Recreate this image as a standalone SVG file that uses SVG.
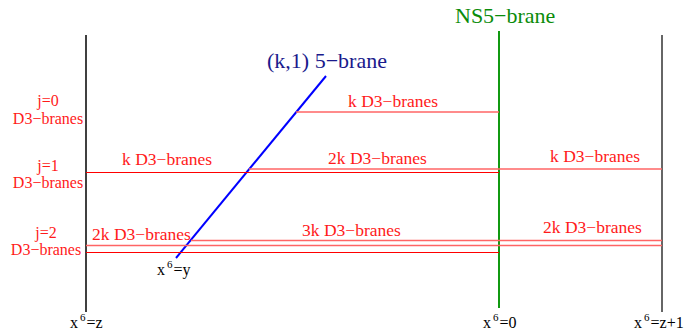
<svg xmlns="http://www.w3.org/2000/svg" width="686" height="332" viewBox="0 0 686 332">
<style>
text{font-family:"Liberation Serif","Times New Roman",serif}
.lbl{font-size:17.5px;fill:#ff1a1a}
.side{font-size:16px;fill:#ff1a1a;text-anchor:middle}
.pos{font-size:16px;fill:#000}
.sup{font-size:11px}
.d3l{stroke:#ff6464;stroke-width:1.7;fill:none}
.d3d{stroke:#ff0000;stroke-width:1.2;fill:none}
</style>
<rect width="686" height="332" fill="#fff"/>
<g id="brane-z">
<line x1="86" y1="35" x2="86" y2="312" stroke="#000" stroke-width="1.5"/>
<text class="pos" x="70" y="328">x<tspan class="sup" dx="2" dy="-7">6</tspan><tspan dx="1" dy="7">=z</tspan></text>
</g>
<g id="brane-z1">
<line x1="662" y1="35" x2="662" y2="312" stroke="#333" stroke-width="1.5"/>
<text class="pos" x="634" y="328">x<tspan class="sup" dx="2" dy="-7">6</tspan><tspan dx="1" dy="7">=z+1</tspan></text>
</g>
<g id="ns5">
<line x1="499" y1="31" x2="499" y2="308" stroke="#119911" stroke-width="2"/>
<text x="455" y="23" font-size="22" fill="#0b8c0b">NS5−brane</text>
<text class="pos" x="483" y="328">x<tspan class="sup" dx="2" dy="-7">6</tspan><tspan dx="1" dy="7">=0</tspan></text>
</g>
<g id="k1-brane">
<line x1="326" y1="76" x2="176" y2="258" stroke="#0000ff" stroke-width="2"/>
<text x="267" y="68" font-size="22" fill="#1a1a8c">(k,1) 5−brane</text>
<text class="pos" x="157" y="275">x<tspan class="sup" dx="2" dy="-7">6</tspan><tspan dx="1" dy="7">=y</tspan></text>
</g>
<g id="connectors">
<line class="d3l" x1="296" y1="112" x2="499" y2="112"/>
<line class="d3l" x1="249" y1="169" x2="662" y2="169"/>
<line class="d3d" x1="86" y1="172.5" x2="499" y2="172.5"/>
<line class="d3l" x1="191" y1="240.5" x2="662" y2="240.5"/>
<line class="d3l" x1="86" y1="245.5" x2="662" y2="245.5"/>
<line class="d3d" x1="86" y1="252.5" x2="499" y2="252.5"/>
</g>
<g id="labels">
<text class="lbl" x="348" y="107">k D3−branes</text>
<text class="lbl" x="122" y="165">k D3−branes</text>
<text class="lbl" x="328" y="164">2k D3−branes</text>
<text class="lbl" x="550" y="162">k D3−branes</text>
<text class="lbl" x="92" y="240">2k D3−branes</text>
<text class="lbl" x="302" y="236">3k D3−branes</text>
<text class="lbl" x="543" y="233">2k D3−branes</text>
</g>
<g id="j0"><text class="side" x="48" y="106">j=0</text><text class="side" x="48" y="124">D3−branes</text></g>
<g id="j1"><text class="side" x="48" y="171">j=1</text><text class="side" x="48" y="188">D3−branes</text></g>
<g id="j2"><text class="side" x="46" y="238">j=2</text><text class="side" x="46" y="255">D3−branes</text></g>
</svg>
